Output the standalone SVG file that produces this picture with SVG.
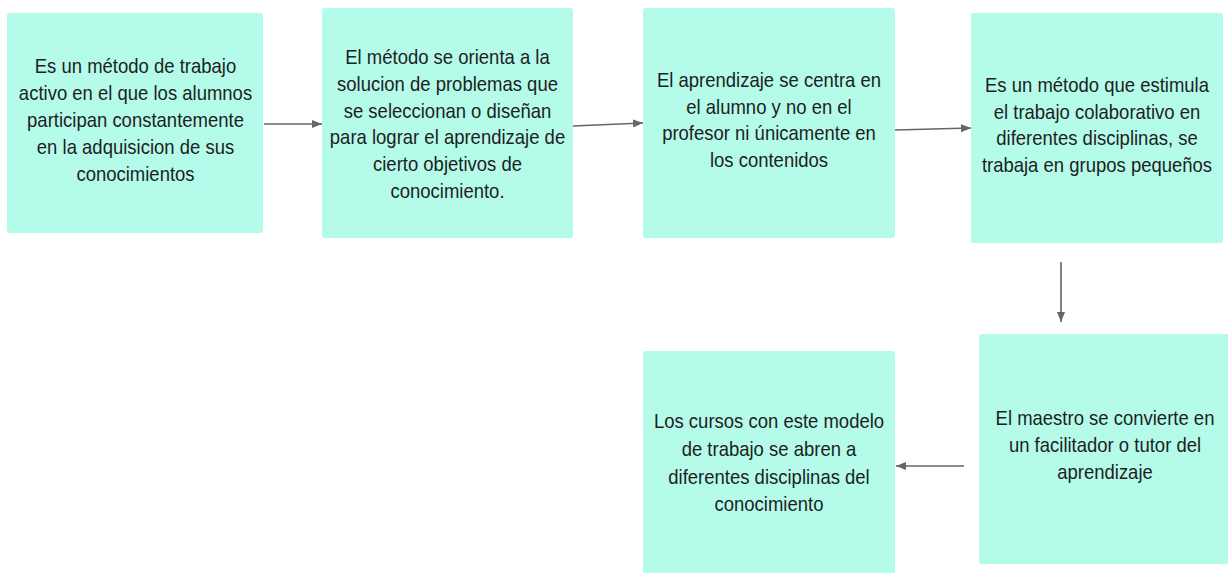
<svg xmlns="http://www.w3.org/2000/svg" width="1228" height="573" viewBox="0 0 1228 573">
<style>
.box{fill:#b4fbea;stroke:none}
.t{font-family:"Liberation Sans",Arial,sans-serif;font-size:20px;fill:#1e1e1e;text-anchor:middle}
.c{stroke:#666;stroke-width:1.6;fill:none;marker-end:url(#ah)}
</style>
<defs>
<marker id="ah" viewBox="0 0 10 8" refX="10" refY="4" markerWidth="10" markerHeight="8" markerUnits="userSpaceOnUse" orient="auto">
<path d="M0,0 L10,4 L0,8 Z" fill="#666"/>
</marker>
</defs>
<rect width="1228" height="573" fill="#fff"/>
<g id="connectors">
<line class="c" x1="264" y1="124" x2="322" y2="124"/>
<line class="c" x1="573" y1="126" x2="643" y2="123"/>
<line class="c" x1="895" y1="130" x2="971" y2="128"/>
<line class="c" x1="1061" y1="262" x2="1061" y2="322"/>
<line class="c" x1="964" y1="466" x2="896" y2="466"/>
</g>
<g id="n1">
<rect class="box" x="7" y="13" width="256" height="220" rx="3"/>
<g transform="translate(135.5,0) scale(0.925,1)">
<text class="t" x="0" y="73">Es un método de trabajo</text>
<text class="t" x="0" y="100">activo en el que los alumnos</text>
<text class="t" x="0" y="127">participan constantemente</text>
<text class="t" x="0" y="154">en la adquisicion de sus</text>
<text class="t" x="0" y="181">conocimientos</text>
</g>
</g>
<g id="n2">
<rect class="box" x="322" y="8" width="251" height="230" rx="3"/>
<g transform="translate(447.5,0) scale(0.925,1)">
<text class="t" x="0" y="64">El método se orienta a la</text>
<text class="t" x="0" y="91">solucion de problemas que</text>
<text class="t" x="0" y="118">se seleccionan o diseñan</text>
<text class="t" x="0" y="144">para lograr el aprendizaje de</text>
<text class="t" x="0" y="171">cierto objetivos de</text>
<text class="t" x="0" y="198">conocimiento.</text>
</g>
</g>
<g id="n3">
<rect class="box" x="643" y="8" width="252" height="230" rx="3"/>
<g transform="translate(769,0) scale(0.925,1)">
<text class="t" x="0" y="87">El aprendizaje se centra en</text>
<text class="t" x="0" y="114">el alumno y no en el</text>
<text class="t" x="0" y="140">profesor ni únicamente en</text>
<text class="t" x="0" y="167">los contenidos</text>
</g>
</g>
<g id="n4">
<rect class="box" x="971" y="13" width="252" height="230" rx="3"/>
<g transform="translate(1097,0) scale(0.925,1)">
<text class="t" x="0" y="92">Es un método que estimula</text>
<text class="t" x="0" y="119">el trabajo colaborativo en</text>
<text class="t" x="0" y="145">diferentes disciplinas, se</text>
<text class="t" x="0" y="172">trabaja en grupos pequeños</text>
</g>
</g>
<g id="n5">
<rect class="box" x="979" y="334" width="252" height="230" rx="3"/>
<g transform="translate(1105,0) scale(0.925,1)">
<text class="t" x="0" y="425">El maestro se convierte en</text>
<text class="t" x="0" y="452">un facilitador o tutor del</text>
<text class="t" x="0" y="479">aprendizaje</text>
</g>
</g>
<g id="n6">
<rect class="box" x="643" y="351" width="252" height="230" rx="3"/>
<g transform="translate(769,0) scale(0.925,1)">
<text class="t" x="0" y="428">Los cursos con este modelo</text>
<text class="t" x="0" y="456">de trabajo se abren a</text>
<text class="t" x="0" y="484">diferentes disciplinas del</text>
<text class="t" x="0" y="511">conocimiento</text>
</g>
</g>
</svg>
